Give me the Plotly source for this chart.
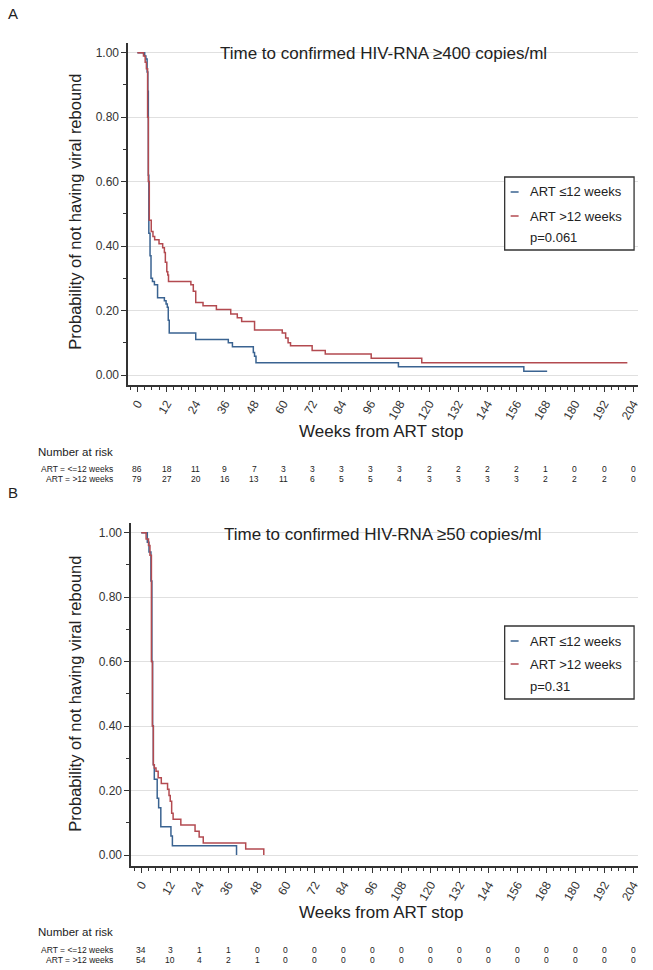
import plotly.graph_objects as go

W, H = 653, 970

# Panel A: confirmed HIV-RNA >=400 copies/ml (Kaplan-Meier steps)
a_short_t = [0, 3, 3.5, 4.0, 4.3, 4.5, 4.7, 5.2, 5.6, 6.2, 7.0, 8.3, 11.1, 11.8, 12.3, 12.7, 13.1,
             24.0, 37.4, 39.1, 47.7, 48.2, 48.8, 107.4, 159.0, 168.6]
a_short_s = [1.0, 0.99, 0.98, 0.94, 0.88, 0.62, 0.44, 0.37, 0.30, 0.29, 0.28, 0.24, 0.23, 0.22, 0.21, 0.17, 0.13,
             0.11, 0.10, 0.088, 0.07, 0.058, 0.038, 0.026, 0.012, 0.012]
a_long_t = [0, 2.5, 3.2, 3.7, 4.2, 4.5, 4.9, 5.7, 6.4, 7.1, 8.9, 10.4, 11.1, 11.5, 12.1, 12.5, 12.8,
            22.0, 23.0, 24.0, 27.0, 32.5, 38.4, 41.1, 42.9, 48.2, 59.6, 61.0, 62.0, 63.0, 71.9, 77.3,
            96.2, 117.0, 201.6]
a_long_s = [1.0, 0.99, 0.97, 0.95, 0.80, 0.60, 0.48, 0.445, 0.43, 0.42, 0.407, 0.395, 0.38, 0.35, 0.32, 0.31, 0.29,
            0.28, 0.26, 0.225, 0.215, 0.203, 0.189, 0.178, 0.166, 0.14, 0.13, 0.115, 0.10, 0.091, 0.076, 0.065,
            0.052, 0.038, 0.038]

# Panel B: confirmed HIV-RNA >=50 copies/ml
b_short_t = [0, 2.5, 3.2, 4.0, 4.4, 4.7, 5.0, 5.4, 6.6, 7.2, 8.1, 12.3, 12.9, 39.5]
b_short_s = [1.0, 0.97, 0.94, 0.85, 0.60, 0.40, 0.28, 0.235, 0.176, 0.147, 0.088, 0.059, 0.029, 0.0]
b_long_t = [0, 2.0, 3.0, 3.6, 4.2, 4.6, 5.0, 5.4, 6.1, 7.0, 8.3, 10.9, 11.5, 12.0, 12.6, 13.2, 16.4,
            22.3, 24.0, 25.7, 43.3, 50.8]
b_long_s = [1.0, 0.98, 0.96, 0.93, 0.60, 0.40, 0.28, 0.27, 0.26, 0.24, 0.222, 0.204, 0.185, 0.167, 0.13, 0.111, 0.093,
            0.074, 0.056, 0.037, 0.019, 0.0]

# Number at risk
risk_weeks = list(range(0, 205, 12))
a_risk_short = [86, 18, 11, 9, 7, 3, 3, 3, 3, 3, 2, 2, 2, 2, 1, 0, 0, 0]
a_risk_long = [79, 27, 20, 16, 13, 11, 6, 5, 5, 4, 3, 3, 3, 3, 2, 2, 2, 0]
b_risk_short = [34, 3, 1, 1, 0, 0, 0, 0, 0, 0, 0, 0, 0, 0, 0, 0, 0, 0]
b_risk_long = [54, 10, 4, 2, 1, 0, 0, 0, 0, 0, 0, 0, 0, 0, 0, 0, 0, 0]

y_ticks = [0.0, 0.2, 0.4, 0.6, 0.8, 1.0]
groups = ["ART \u226412 weeks", "ART >12 weeks"]
risk_labels = ["ART = <=12 weeks", "ART = >12 weeks"]

BLUE = "#3A6391"
RED = "#B34A50"
AX = "#333333"
FONT = "Liberation Sans, Arial, sans-serif"


def px(x):
    return x / W


def py(y):
    return 1 - y / H


fig = go.Figure()

panels = [
    dict(xa="x", ya="y", short=(a_short_t, a_short_s), long=(a_long_t, a_long_s)),
    dict(xa="x2", ya="y2", short=(b_short_t, b_short_s), long=(b_long_t, b_long_s)),
]
for p in panels:
    for (t, s), col, name in [(p["short"], BLUE, groups[0]), (p["long"], RED, groups[1])]:
        fig.add_trace(go.Scatter(
            x=t, y=s, mode="lines", line=dict(color=col, width=1.5, shape="hv"),
            name=name, showlegend=False, xaxis=p["xa"], yaxis=p["ya"],
        ))

xaxis_common = dict(
    tickmode="array", tickvals=risk_weeks, ticktext=[str(w) for w in risk_weeks],
    tickangle=-60, tickfont=dict(size=12, color=AX, family=FONT),
    showline=True, linecolor=AX, linewidth=2, ticks="outside", ticklen=5, tickcolor=AX,
    minor=dict(dtick=3, ticks="outside", ticklen=3, tickcolor=AX),
    showgrid=False, zeroline=False,
)
yaxis_common = dict(
    tickmode="array", tickvals=y_ticks, ticktext=["%.2f" % v for v in y_ticks],
    tickfont=dict(size=12, color=AX, family=FONT),
    showline=True, linecolor=AX, linewidth=2, ticks="outside", ticklen=5, tickcolor=AX,
    minor=dict(dtick=0.1, tick0=0, ticks="outside", ticklen=3, tickcolor=AX, showgrid=False),
    showgrid=True, gridcolor="#E0E0E0", gridwidth=1, zeroline=False,
)

fig.update_layout(
    width=W, height=H, margin=dict(l=0, r=0, t=0, b=0),
    paper_bgcolor="white", plot_bgcolor="white",
    font=dict(family=FONT, color="#222"),
    xaxis=dict(domain=[px(129), px(641)], range=[-3.7, 206], anchor="y", **xaxis_common),
    yaxis=dict(domain=[py(385), py(43)], range=[-0.031, 1.03], anchor="x", **yaxis_common),
    xaxis2=dict(domain=[px(132), px(641)], range=[-4.1, 206], anchor="y2", **xaxis_common),
    yaxis2=dict(domain=[py(866), py(523)], range=[-0.034, 1.03], anchor="x2", **yaxis_common),
)

# panel letters, titles, axis titles, legend boxes, risk tables
panel_info = [
    dict(letter="A", ly=14, title="Time to confirmed HIV-RNA \u2265400 copies/ml", ty=53,
         yt=212, xt=431, box=(507, 177, 637, 250), leg=(192, 216, 237), p="p=0.061",
         nar=452, rows=(469, 479), xa="x", risk=(a_risk_short, a_risk_long)),
    dict(letter="B", ly=492, title="Time to confirmed HIV-RNA \u226550 copies/ml", ty=534,
         yt=694, xt=912, box=(507, 626, 637, 699), leg=(641, 664, 686), p="p=0.31",
         nar=932, rows=(950, 960), xa="x2", risk=(b_risk_short, b_risk_long)),
]

for p in panel_info:
    fig.add_annotation(x=px(6), y=py(p["ly"]), xref="paper", yref="paper", text=p["letter"],
                       showarrow=False, xanchor="left", yanchor="middle",
                       font=dict(size=15, color="#222"))
    fig.add_annotation(x=px(385), y=py(p["ty"]), xref="paper", yref="paper", text=p["title"],
                       showarrow=False, xanchor="center", yanchor="middle",
                       font=dict(size=17, color="#222"))
    fig.add_annotation(x=px(75), y=py(p["yt"]), xref="paper", yref="paper",
                       text="Probability of not having viral rebound", textangle=-90,
                       showarrow=False, xanchor="center", yanchor="middle",
                       font=dict(size=16.5, color="#222"))
    fig.add_annotation(x=px(383), y=py(p["xt"]), xref="paper", yref="paper",
                       text="Weeks from ART stop", showarrow=False,
                       xanchor="center", yanchor="middle", font=dict(size=17, color="#222"))
    x0, y0, x1, y1 = p["box"]
    fig.add_shape(type="rect", xref="paper", yref="paper", x0=px(x0), x1=px(x1), y0=py(y0), y1=py(y1),
                  line=dict(color="#333", width=1.3), fillcolor="white", layer="above")
    for yy, col, name in zip(p["leg"][:2], [BLUE, RED], groups):
        fig.add_shape(type="line", xref="paper", yref="paper", x0=px(513), x1=px(521),
                      y0=py(yy), y1=py(yy), line=dict(color=col, width=1.5), layer="above")
        fig.add_annotation(x=px(530), y=py(yy), xref="paper", yref="paper", text=name,
                           showarrow=False, xanchor="left", yanchor="middle",
                           font=dict(size=13, color="#222"))
    fig.add_annotation(x=px(530), y=py(p["leg"][2]), xref="paper", yref="paper", text=p["p"],
                       showarrow=False, xanchor="left", yanchor="middle",
                       font=dict(size=13, color="#222"))
    # number at risk
    fig.add_annotation(x=px(116), y=py(p["nar"]), xref="paper", yref="paper", text="Number at risk",
                       showarrow=False, xanchor="right", yanchor="middle",
                       font=dict(size=11.5, color="#222"))
    for yy, lab, vals in zip(p["rows"], risk_labels, p["risk"]):
        fig.add_annotation(x=px(116), y=py(yy), xref="paper", yref="paper", text=lab,
                           showarrow=False, xanchor="right", yanchor="middle",
                           font=dict(size=8.5, color="#222"))
        for w, v in zip(risk_weeks, vals):
            fig.add_annotation(x=w, y=py(yy), xref=p["xa"], yref="paper", text=str(v),
                               showarrow=False, xanchor="center", yanchor="middle",
                               font=dict(size=8.5, color="#222"))

fig.write_html("out.html", config={"displayModeBar": False},
               post_script="document.body.style.margin='0';")
